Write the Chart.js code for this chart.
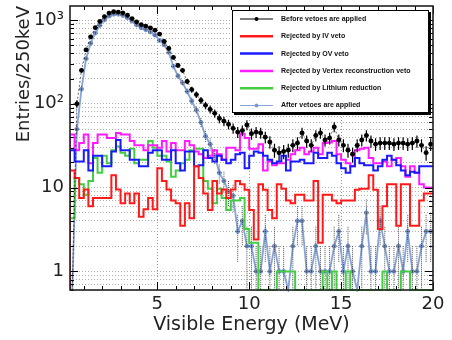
<!DOCTYPE html>
<html><head><meta charset="utf-8">
<script src="https://cdn.jsdelivr.net/npm/chart.js@4.4.1/dist/chart.umd.min.js"></script>
<style>html,body{margin:0;padding:0;background:#fff}</style>
</head><body>
<canvas id="c" width="452" height="340"></canvas>
<script>
// ---- axis settings / tick labels ----
const X_MIN = 0.25, X_MAX = 20, Y_MIN = 0.6, Y_MAX = 1470, BIN_W = 0.25;
const xTickLabels = [5, 10, 15, 20];
const yTickLabels = [1, 10, 100, 1000];
const yTickText = {1: '1', 10: '10', 100: '10\u00B2', 1000: '10\u00B3'};

// ---- categories: 250 keV bins from 0 to 20 MeV ----
const binCenters = Array.from({length: 80}, (_, i) => 0.125 + 0.25 * i);
const binLowEdges = Array.from({length: 81}, (_, i) => 0.25 * i);

// ---- series values (entries per bin) ----
const beforeVetoes = [0,0,100,250,440,630,810,960,1100,1210, 1255,1245,1220,1140,1040,950,880,845,805,755,
  680,556,458,358,287,250,185,148,129,110, 96,86,77,67,62,57,51,46,48,56,
  44,46,45,40,35,28,26,27,28,32, 34,45,36,32,42,45,37,39,53,37,
  32,28,25,32,37,42,36,33,34,34, 34,33,34,34,33,34,36,32,26,33];
const afterVetoes = [0,0,50,150,345,530,700,860,1000,1110, 1170,1170,1130,1060,970,870,805,765,720,660,
  570,505,410,280,215,178,140,108,84,60, 41,33,24,15,12,9,8,3,4,2,
  2,1,1,3,1,2,1,1,0,2, 4,4,1,1,2,1,1,1,2,3,
  1,2,1,0,2,5,1,1,4,2, 1,1,2,1,3,1,1,2,3,3];
const rejectedIV = [0,0,16,13,7.5,9.5,6,7.5,7.5,7.5, 7.5,14,9.5,6.5,8.5,6.5,8.5,4.5,5.5,7.5,
  5.5,17,12,9.5,7,6.5,3.5,6.5,4.3,18, 13,8.5,5.4,12,8.5,9.5,7.5,9.5,12,11,
  9.4,5.4,2.4,11,9.4,5.4,4.3,11,9.7,7, 6.5,8.2,8.2,7,7,12,2.2,8.2,8.2,7,
  6.5,7,7,7,9.4,9.7,9.7,14,9.4,3.2, 6,11,11,3.5,11,11,3.5,3.5,7,8.5];
const rejectedOV = [0,0,28,20.5,20.5,28,16,24,24,18, 18,27,37,28,28,21.5,21.5,18,18,26,
  28,28,21.5,21.5,28,19.5,16,27,27,18, 18.5,28,22.5,20.5,24,21.5,19.5,21.5,25,26,
  17,24,27,26,24,21.5,19.5,20.5,24,16, 20.5,20.5,21.5,19.5,19.5,26,22.5,22.5,26,24,
  19.5,17,15,18,22.5,19.5,18.5,18.5,16,18, 21.5,24,21.5,18.5,16,14,15.5,15,18,18];
const rejectedVertex = [0,0,43,28,34,43,19.5,34,43,43, 39,39,45,43,43,36,32,32,28,32,
  32,30,36,27,34,28,28,36,32,27, 25,22.5,24,28,25,21.5,30,30,28,44,
  39,29,29,33,16,20.5,18.5,19.5,19.5,21.5, 25,28,30,25,27,30,25,34,34.5,36,
  25,21.5,19.5,18,28,29,30,22.5,19.5,19.5, 20.5,18,21.5,22.5,18,13.5,18,15,11,10];
const rejectedLithium = [0,0,4.3,13,11,8.2,12,22.5,15,24, 19.5,28,31,26,24,29,19.5,21.5,21.5,36,
  30,24,24,20.5,13.5,16,19.5,21.5,28,29, 29,12,9.7,6.5,9.7,7.5,5.4,7,7,7.5,
  3.2,2.2,2.2,0,0,0,0,1,1,1, 1,0,0,0,0,0,0,1,0,1,
  0,0,1,0,0,0,0,0,0,0, 1,0,0,0,1,1,0,0,0,0];

// ---- helpers building the tables the library needs ----
const floorVal = v => (v > 0 ? v : Y_MIN);
function histPoints(vals) {
  const pts = vals.map((v, i) => ({x: binLowEdges[i], y: floorVal(v)}));
  pts.push({x: binLowEdges[vals.length], y: floorVal(vals[vals.length - 1])});
  return pts;
}
function markerPoints(vals) {
  return vals.map((v, i) => ({x: binCenters[i], y: floorVal(v), raw: v}));
}
const yGridValues = [];
[0.1, 1, 10, 100, 1000].forEach(d => { for (let m = 1; m <= 9; m++) { const v = m * d; if (v >= Y_MIN - 1e-9 && v <= Y_MAX) yGridValues.push(v); } });
const xGridValues = Array.from({length: 20}, (_, i) => i + 1);

function hist(label, vals, color) {
  return {label, data: histPoints(vals), borderColor: color, backgroundColor: color, borderWidth: 2,
    stepped: 'after', pointRadius: 0, fill: false, legendStyle: 'hist', clip: {left: 0, top: 0, right: 0, bottom: 2}};
}

const datasets = [
  {label: 'Before vetoes are applied', data: markerPoints(beforeVetoes), borderColor: 'rgba(0,0,0,0.6)', borderWidth: 1,
   borderDash: [2, 2], pointRadius: c => (c.raw && c.raw.raw > 0 ? 2.4 : 0), pointBackgroundColor: '#000', pointBorderWidth: 0,
   errorBars: true, errColor: '#000', errWidth: 1.2, legendStyle: 'marker', markerColor: '#000', lineColor: '#000',
   clip: {left: 0, top: 0, right: 0, bottom: 2}},
  hist('Rejected by IV veto', rejectedIV, '#ff1a1a'),
  hist('Rejected by OV veto', rejectedOV, '#1a1aff'),
  hist('Rejected by Vertex reconstruction veto', rejectedVertex, '#ff1aff'),
  hist('Rejected by Lithium reduction', rejectedLithium, '#44cc44'),
  {label: 'After vetoes are applied', data: markerPoints(afterVetoes), borderColor: '#86a3d8', borderWidth: 1.8,
   pointRadius: c => (c.raw && c.raw.raw > 0 ? 2.4 : 0), pointBackgroundColor: '#7b9ad3', pointBorderWidth: 0,
   errorBars: true, errColor: 'rgba(50,50,50,0.85)', errWidth: 1, errDash: [1, 1], legendStyle: 'marker',
   markerColor: '#7b9ad3', lineColor: '#88a5d9', clip: {left: 0, top: 0, right: 0, bottom: 2}}
];

const errorBarPlugin = {
  id: 'errbars',
  afterDatasetDraw(chart, args) {
    const ds = chart.data.datasets[args.index];
    if (!ds.errorBars) return;
    const {ctx, chartArea: a, scales: {x, y}} = chart;
    ctx.save();
    ctx.beginPath(); ctx.rect(a.left, a.top, a.right - a.left, a.bottom - a.top); ctx.clip();
    ctx.strokeStyle = ds.errColor; ctx.lineWidth = ds.errWidth || 1;
    if (ds.errDash) ctx.setLineDash(ds.errDash);
    ds.data.forEach(p => {
      if (!(p.raw > 0)) return;
      const e = Math.sqrt(p.raw);
      const px = x.getPixelForValue(p.x);
      const py = y.getPixelForValue(p.raw);
      const yT = y.getPixelForValue(p.raw + e);
      const yB = y.getPixelForValue(Math.max(p.raw - e, Y_MIN * 0.5));
      const xl = x.getPixelForValue(p.x - BIN_W / 2), xr = x.getPixelForValue(p.x + BIN_W / 2);
      ctx.beginPath(); ctx.moveTo(px, yT); ctx.lineTo(px, yB); ctx.moveTo(xl, py); ctx.lineTo(xr, py); ctx.stroke();
    });
    ctx.restore();
  }
};

const framePlugin = {
  id: 'frame',
  afterDraw(chart) {
    const {ctx, chartArea: a, scales: {x, y}} = chart;
    ctx.save();
    ctx.strokeStyle = '#000'; ctx.lineWidth = 1;
    ctx.beginPath();
    xGridValues.forEach(v => {
      const px = Math.round(x.getPixelForValue(v)) + 0.5;
      const L = v % 5 === 0 ? 8 : 4;
      ctx.moveTo(px, a.bottom); ctx.lineTo(px, a.bottom - L);
      ctx.moveTo(px, a.top); ctx.lineTo(px, a.top + L);
    });
    yGridValues.forEach(v => {
      const py = Math.round(y.getPixelForValue(v)) + 0.5;
      const L = yTickLabels.includes(v) ? 8 : 4;
      ctx.moveTo(a.left, py); ctx.lineTo(a.left + L, py);
      ctx.moveTo(a.right, py); ctx.lineTo(a.right - L, py);
    });
    ctx.stroke();
    ctx.lineWidth = 1.6; ctx.strokeStyle = '#222';
    ctx.strokeRect(a.left, a.top, a.right - a.left, a.bottom - a.top);
    ctx.restore();
  }
};

const legendPlugin = {
  id: 'boxLegend',
  afterDraw(chart) {
    const {ctx} = chart;
    const bx = 232, by = 10, bw = 197, bh = 103;
    ctx.save();
    ctx.fillStyle = '#000'; ctx.fillRect(bx + 2, by + 2, bw, bh);
    ctx.fillStyle = '#fff'; ctx.fillRect(bx, by, bw, bh);
    ctx.strokeStyle = '#000'; ctx.lineWidth = 1; ctx.strokeRect(bx + 0.5, by + 0.5, bw - 1, bh - 1);
    ctx.font = "bold 7px 'Liberation Sans', Arial, sans-serif";
    ctx.textBaseline = 'middle'; ctx.textAlign = 'left';
    chart.data.datasets.forEach((ds, k) => {
      const yy = by + 9 + k * 17.3;
      const x0 = bx + 8, x1 = bx + 41;
      ctx.beginPath();
      if (ds.legendStyle === 'hist') {
        ctx.strokeStyle = ds.borderColor; ctx.lineWidth = 2.5;
        ctx.moveTo(x0, yy); ctx.lineTo(x1, yy); ctx.stroke();
      } else {
        ctx.strokeStyle = ds.lineColor; ctx.lineWidth = 1.2;
        ctx.moveTo(x0, yy); ctx.lineTo(x1, yy); ctx.stroke();
        ctx.beginPath(); ctx.fillStyle = ds.markerColor; ctx.arc((x0 + x1) / 2, yy, 2, 0, Math.PI * 2); ctx.fill();
      }
      ctx.fillStyle = '#111';
      ctx.fillText(ds.label, bx + 49, yy);
    });
    ctx.restore();
  }
};

new Chart(document.getElementById('c'), {
  type: 'line',
  data: {datasets},
  options: {
    responsive: false, animation: false, devicePixelRatio: 1,
    layout: {padding: {left: 8, right: 19, top: 6, bottom: 2}},
    plugins: {legend: {display: false}, tooltip: {enabled: false}},
    scales: {
      x: {
        type: 'linear', min: X_MIN, max: X_MAX,
        afterBuildTicks: s => { s.ticks = xGridValues.map(v => ({value: v})); s.min = X_MIN; s.max = X_MAX; },
        ticks: {autoSkip: false, maxRotation: 0, padding: 4, color: '#222',
          font: {family: 'DejaVu Sans', size: 18},
          callback: v => (xTickLabels.includes(v) ? String(v) : '')},
        grid: {drawTicks: false, lineWidth: 1,
          color: c => (c.tick && [5, 10, 15].includes(c.tick.value) ? '#9a9a9a' : 'rgba(0,0,0,0)')},
        border: {display: false, dash: [1, 2]},
        title: {display: true, text: 'Visible Energy (MeV)', color: '#222',
          font: {family: 'DejaVu Sans', size: 19}, padding: {top: 0, bottom: 2}},
        afterFit: s => { s.height = 48; s.paddingLeft = 0; s.paddingRight = 0; }
      },
      y: {
        type: 'logarithmic', min: Y_MIN, max: Y_MAX,
        afterBuildTicks: s => { s.ticks = yGridValues.map(v => ({value: v})); s.min = Y_MIN; s.max = Y_MAX; },
        ticks: {autoSkip: false, padding: 6, color: '#222',
          font: {family: 'DejaVu Sans', size: 18},
          callback: v => (yTickText[v] !== undefined ? yTickText[v] : '')},
        grid: {drawTicks: false, lineWidth: 1, color: '#b0b0b0'},
        border: {display: false, dash: [1, 2]},
        title: {display: true, text: 'Entries/250keV', align: 'end', color: '#222',
          font: {family: 'DejaVu Sans', size: 18}, padding: {top: 6, bottom: 0}},
        afterFit: s => { s.width = 62; s.paddingTop = 0; s.paddingBottom = 0; }
      }
    }
  },
  plugins: [errorBarPlugin, framePlugin, legendPlugin]
});
</script>
</body></html>
